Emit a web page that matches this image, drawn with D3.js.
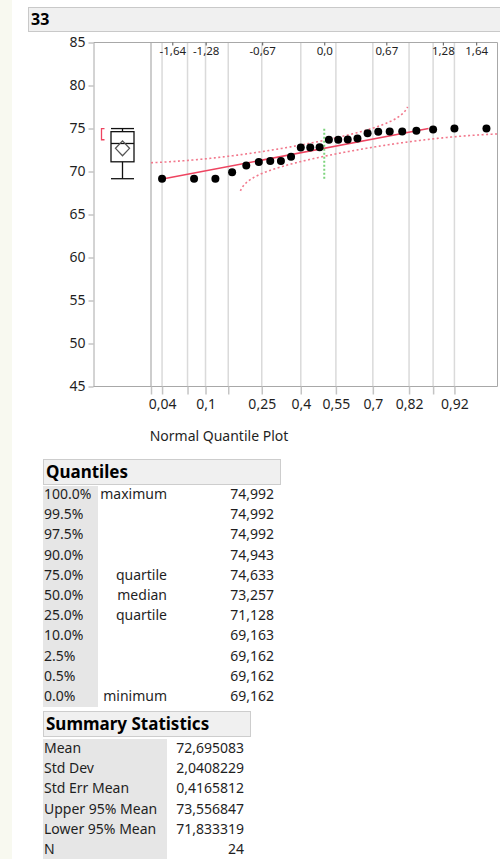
<!DOCTYPE html>
<html>
<head>
<meta charset="utf-8">
<script src="https://cdn.jsdelivr.net/npm/d3@7"></script>
<style>
  html, body { margin: 0; padding: 0; background: #fff; }
  svg { display: block; font-family: "Noto Sans", "Open Sans", sans-serif; }
</style>
</head>
<body>
<svg id="chart" width="500" height="859"></svg>
<script>
// ---- data ----
const columnTitle = "33";
const sortedValues = [69.162, 69.162, 69.164, 69.90, 70.70, 71.10, 71.21, 71.23, 71.705, 72.78, 72.80, 72.82,
                      73.694, 73.70, 73.72, 73.85, 74.45, 74.62, 74.637, 74.65, 74.75, 74.894, 74.992, 74.992];
const yTicks = [45, 50, 55, 60, 65, 70, 75, 80, 85];
const zTicks = [-1.64, -1.28, -0.67, 0, 0.67, 1.28, 1.64];
const zTickLabels = ["-1,64", "-1,28", "-0,67", "0,0", "0,67", "1,28", "1,64"];
const probTicks = [0.04, 0.1, 0.25, 0.4, 0.55, 0.7, 0.82, 0.92];
const probTickLabels = ["0,04", "0,1", "0,25", "0,4", "0,55", "0,7", "0,82", "0,92"];
const probMinorTicks = [0.07, 0.15, 0.88];
const quantileLevels = ["100.0%", "99.5%", "97.5%", "90.0%", "75.0%", "50.0%", "25.0%", "10.0%", "2.5%", "0.5%", "0.0%"];
const quantileNames = ["maximum", "", "", "", "quartile", "median", "quartile", "", "", "", "minimum"];
const quantileValues = [74.992, 74.992, 74.992, 74.943, 74.633, 73.257, 71.128, 69.163, 69.162, 69.162, 69.162];
const summaryLabels = ["Mean", "Std Dev", "Std Err Mean", "Upper 95% Mean", "Lower 95% Mean", "N"];
const summaryValues = [72.695083, 2.0408229, 0.4165812, 73.556847, 71.833319, 24];
const bandWidth = 0.175;            // Lilliefors band half-width in probability units
const shortestHalf = [73.694, 74.992];

// ---- normal distribution helpers ----
function pnorm(z) {
  const t = 1 / (1 + 0.3275911 * Math.abs(z) / Math.SQRT2);
  const y = 1 - (((((1.061405429 * t - 1.453152027) * t) + 1.421413741) * t - 0.284496736) * t + 0.254829592) * t *
            Math.exp(-z * z / 2);
  return z >= 0 ? (1 + y) / 2 : (1 - y) / 2;
}
function qnorm(p) {
  const a = [-39.69683028665376, 220.9460984245205, -275.9285104469687, 138.3577518672690, -30.66479806614716, 2.506628277459239];
  const b = [-54.47609879822406, 161.5858368580409, -155.6989798598866, 66.80131188771972, -13.28068155288572];
  const c = [-0.007784894002430293, -0.3223964580411365, -2.400758277161838, -2.549732539343734, 4.374664141464968, 2.938163982698783];
  const d = [0.007784695709041462, 0.3224671290700398, 2.445134137142996, 3.754408661907416];
  const pl = 0.02425;
  let q, r;
  if (p < pl) {
    q = Math.sqrt(-2 * Math.log(p));
    return (((((c[0]*q+c[1])*q+c[2])*q+c[3])*q+c[4])*q+c[5]) / ((((d[0]*q+d[1])*q+d[2])*q+d[3])*q+1);
  } else if (p <= 1 - pl) {
    q = p - 0.5; r = q * q;
    return (((((a[0]*r+a[1])*r+a[2])*r+a[3])*r+a[4])*r+a[5])*q / (((((b[0]*r+b[1])*r+b[2])*r+b[3])*r+b[4])*r+1);
  } else {
    q = Math.sqrt(-2 * Math.log(1 - p));
    return -(((((c[0]*q+c[1])*q+c[2])*q+c[3])*q+c[4])*q+c[5]) / ((((d[0]*q+d[1])*q+d[2])*q+d[3])*q+1);
  }
}

const svg = d3.select("#chart");
const ink = "#1f1f1f";
const locale = d3.formatLocale({ decimal: ",", thousands: ".", grouping: [3], currency: ["", ""] });
const fmt3 = locale.format(".3f");
const fmtStat = locale.format(".8~g");

// page background
svg.append("rect").attr("width", 500).attr("height", 859).attr("fill", "#fff");
svg.append("rect").attr("width", 12).attr("height", 859).attr("fill", "#f8f9f0");

// title bar
svg.append("rect").attr("x", 28.5).attr("y", 7.5).attr("width", 480).attr("height", 24)
  .attr("fill", "#f0f0f0").attr("stroke", "#c9c9c9");
svg.append("text").attr("x", 31).attr("y", 25).attr("font-size", 16).attr("font-weight", 700)
  .attr("fill", "#000").text(columnTitle);

// ---- scales ----
const plotTop = 42.5, plotBottom = 386.5, axisX = 93.5, plotRight = 497.5;
const y = d3.scaleLinear().domain([45, 85]).range([plotBottom, plotTop]);
const zx = d3.scaleLinear().domain([-1.87, 1.87]).range([151, plotRight]);

const mean = summaryValues[0], sd = summaryValues[1];
const upperMean = summaryValues[3], lowerMean = summaryValues[4];
const qMax = quantileValues[0], q75 = quantileValues[4], qMed = quantileValues[5], q25 = quantileValues[6], qMin = quantileValues[10];

// vertical probability grid
const gridProbs = probTicks.concat(probMinorTicks);
svg.append("g").selectAll("line").data(gridProbs).join("line")
  .attr("x1", p => zx(qnorm(p))).attr("x2", p => zx(qnorm(p)))
  .attr("y1", plotTop).attr("y2", plotBottom)
  .attr("stroke", "#dadada").attr("stroke-width", 1.5);
// separator between box plot and quantile plot
svg.append("line").attr("x1", zx(-1.87)).attr("x2", zx(-1.87)).attr("y1", plotTop).attr("y2", plotBottom)
  .attr("stroke", "#bdbdbd").attr("stroke-width", 1.5);

// frame
svg.append("path")
  .attr("d", `M${axisX},${plotTop}H${plotRight}V${plotBottom}`)
  .attr("fill", "none").attr("stroke", "#a8a8a8");

// left axis
const yAxis = svg.append("g").attr("transform", `translate(${axisX},0)`)
  .call(d3.axisLeft(y).tickValues(yTicks).tickSize(5).tickSizeOuter(0).tickPadding(3));
yAxis.select(".domain").attr("stroke", "#a8a8a8");
yAxis.selectAll(".tick line").attr("stroke", "#a8a8a8");
yAxis.selectAll("text").attr("font-size", 14).attr("fill", ink).attr("font-family", "Noto Sans");

// bottom probability axis
const bottomAxis = svg.append("g").attr("transform", `translate(0,${plotBottom})`)
  .call(d3.axisBottom(zx)
    .tickValues([-1.87].concat(gridProbs.map(qnorm)))
    .tickFormat(z => { const i = probTicks.findIndex(p => Math.abs(qnorm(p) - z) < 1e-9); return i >= 0 ? probTickLabels[i] : ""; })
    .tickSize(8).tickSizeOuter(0).tickPadding(5));
bottomAxis.select(".domain").attr("d", `M${axisX},0H${plotRight}`).attr("stroke", "#a8a8a8");
bottomAxis.selectAll(".tick line").attr("stroke", "#c4c4c4").attr("stroke-width", 1.5);
bottomAxis.selectAll("text").attr("font-size", 14).attr("fill", ink).attr("font-family", "Noto Sans");

svg.append("text").attr("x", 219).attr("y", 441).attr("text-anchor", "middle")
  .attr("font-size", 14).attr("fill", ink).text("Normal Quantile Plot");

// top normal quantile axis
const topAxis = svg.append("g").attr("transform", `translate(0,${plotTop})`)
  .call(d3.axisBottom(zx).tickValues(zTicks).tickFormat((d, i) => zTickLabels[i])
    .tickSize(3).tickSizeOuter(0).tickPadding(1));
topAxis.select(".domain").remove();
topAxis.selectAll(".tick line").attr("stroke", "#555");
topAxis.selectAll("text").attr("font-size", 11.5).attr("fill", ink).attr("font-family", "Noto Sans");

// ---- box plot ----
const bx = 122.5, bw = 23;
const box = svg.append("g").attr("stroke", "#111").attr("stroke-width", 1.3).attr("fill", "none");
box.append("line").attr("x1", bx).attr("x2", bx).attr("y1", y(qMax)).attr("y2", y(q75));
box.append("line").attr("x1", bx).attr("x2", bx).attr("y1", y(q25)).attr("y2", y(qMin));
box.append("line").attr("x1", bx - bw / 2).attr("x2", bx + bw / 2).attr("y1", y(qMax)).attr("y2", y(qMax));
box.append("line").attr("x1", bx - bw / 2).attr("x2", bx + bw / 2).attr("y1", y(qMin)).attr("y2", y(qMin));
box.append("rect").attr("x", bx - bw / 2).attr("y", y(q75)).attr("width", bw).attr("height", y(q25) - y(q75));
box.append("line").attr("x1", bx - bw / 2).attr("x2", bx + bw / 2).attr("y1", y(qMed)).attr("y2", y(qMed));
// mean diamond
const dw = 7;
svg.append("path")
  .attr("d", `M${bx},${y(upperMean)}L${bx + dw},${y(mean)}L${bx},${y(lowerMean)}L${bx - dw},${y(mean)}Z`)
  .attr("fill", "none").attr("stroke", "#555").attr("stroke-width", 1.3);
// shortest half bracket
svg.append("path")
  .attr("d", `M${104.5},${y(shortestHalf[1])}H${101.5}V${y(shortestHalf[0])}H${104.5}`)
  .attr("fill", "none").attr("stroke", "#ee4460").attr("stroke-width", 1.3);

// ---- quantile plot ----
// confidence bands
const zs = d3.range(-1.87, 1.8701, 0.005);
const upperBand = zs.filter(z => pnorm(z) + bandWidth <= 0.992).map(z => [z, mean + sd * qnorm(pnorm(z) + bandWidth)]);
const lowerBand = zs.filter(z => pnorm(z) - bandWidth >= 0.007).map(z => [z, mean + sd * qnorm(pnorm(z) - bandWidth)]);
const bandLine = d3.line().x(d => zx(d[0])).y(d => y(d[1]));
[upperBand, lowerBand].forEach(b => svg.append("path").attr("d", bandLine(b))
  .attr("fill", "none").attr("stroke", "#f2788c").attr("stroke-width", 1.6).attr("stroke-dasharray", "2,2.5"));

// fit line across the data range
const zLo = (qMin - mean) / sd, zHi = (qMax - mean) / sd;
svg.append("line").attr("x1", zx(zLo)).attr("y1", y(mean + sd * zLo)).attr("x2", zx(zHi)).attr("y2", y(mean + sd * zHi))
  .attr("stroke", "#ee4460").attr("stroke-width", 1.5);

// median reference
svg.append("line").attr("x1", zx(0)).attr("x2", zx(0)).attr("y1", y(qMin)).attr("y2", y(qMax))
  .attr("stroke", "#7dd47d").attr("stroke-width", 2).attr("stroke-dasharray", "2,2");

// points
const n = sortedValues.length;
svg.append("g").selectAll("circle").data(sortedValues).join("circle")
  .attr("cx", (v, i) => zx(qnorm((i + 1) / (n + 1))))
  .attr("cy", v => y(v)).attr("r", 4).attr("fill", "#000");

// ---- Quantiles table ----
function tableHeader(x, yTop, w, label) {
  svg.append("rect").attr("x", x + 0.5).attr("y", yTop + 0.5).attr("width", w).attr("height", 25)
    .attr("fill", "#f0f0f0").attr("stroke", "#cdcdcd");
  svg.append("text").attr("x", x + 3).attr("y", yTop + 19).attr("font-size", 17).attr("font-weight", 700)
    .attr("fill", "#000").text(label);
}
const rowStep = 20.2;
tableHeader(43, 459, 237, "Quantiles");
svg.append("rect").attr("x", 43).attr("y", 486).attr("width", 55).attr("height", 221).attr("fill", "#e6e6e6");
const qRows = svg.append("g").attr("font-size", 14).attr("fill", ink);
quantileLevels.forEach((lvl, i) => {
  const cy = 494 + i * rowStep + 5;
  qRows.append("text").attr("x", 44).attr("y", cy).text(lvl);
  qRows.append("text").attr("x", 167).attr("y", cy).attr("text-anchor", "end").text(quantileNames[i]);
  qRows.append("text").attr("x", 274).attr("y", cy).attr("text-anchor", "end").text(fmt3(quantileValues[i]));
});

// ---- Summary Statistics table ----
tableHeader(43, 711, 207, "Summary Statistics");
svg.append("rect").attr("x", 43).attr("y", 739).attr("width", 124).attr("height", 120).attr("fill", "#e6e6e6");
const sRows = svg.append("g").attr("font-size", 14).attr("fill", ink);
summaryLabels.forEach((lbl, i) => {
  const cy = 748 + i * rowStep + 5;
  sRows.append("text").attr("x", 44).attr("y", cy).text(lbl);
  sRows.append("text").attr("x", 244).attr("y", cy).attr("text-anchor", "end").text(fmtStat(summaryValues[i]));
});
</script>
</body>
</html>
